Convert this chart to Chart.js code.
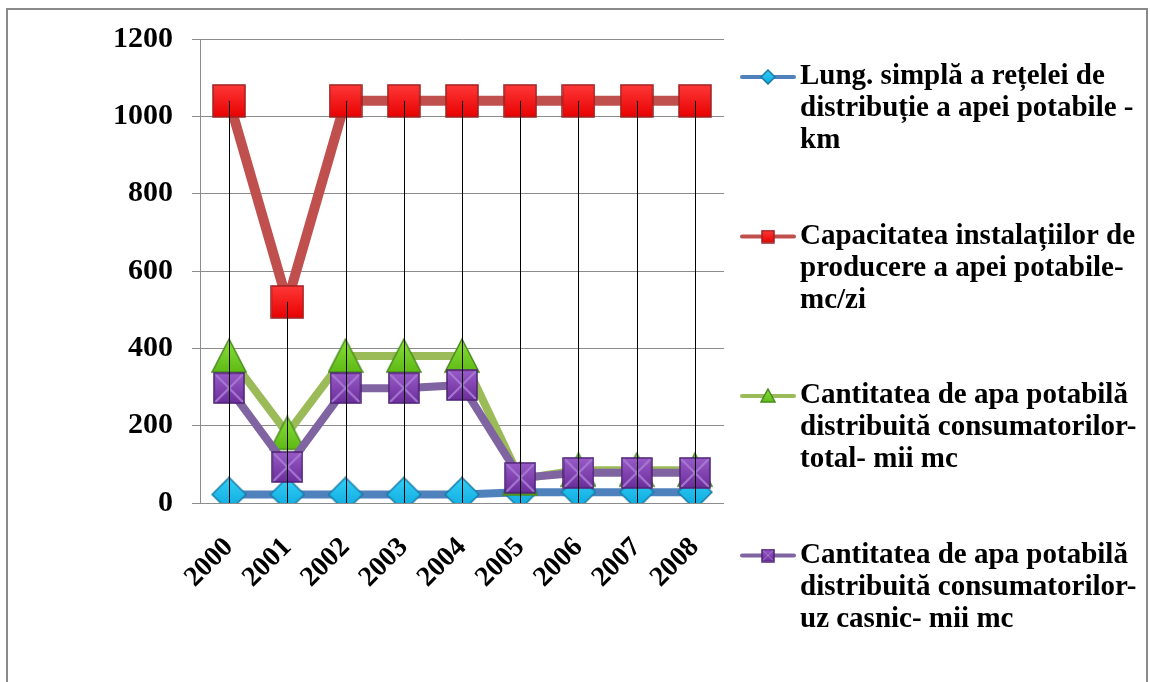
<!DOCTYPE html>
<html>
<head>
<meta charset="utf-8">
<script src="https://cdn.jsdelivr.net/npm/chart.js@4"></script>
<style>
  html, body { margin: 0; padding: 0; background: #fff; }
  canvas { display: block; }
</style>
</head>
<body>
<canvas id="apaChart" width="1150" height="682"></canvas>
<script>
// date
const years = ["2000", "2001", "2002", "2003", "2004", "2005", "2006", "2007", "2008"];
const lungRetea = [22, 22, 22, 22, 22, 28, 28, 28, 28];
const capacitate = [1040, 520, 1040, 1040, 1040, 1040, 1040, 1040, 1040];
const cantTotal = [380, 180, 380, 380, 380, 62, 85, 85, 85];
const cantCasnic = [297, 93, 297, 297, 305, 65, 78, 78, 78];
const yTicks = [0, 200, 400, 600, 800, 1000, 1200];

const legendLines = [
    ["Lung. simplă a rețelei de", "distribuție a apei potabile -", "km"],
    ["Capacitatea instalațiilor de", "producere a apei potabile-", "mc/zi"],
    ["Cantitatea de apa potabilă", "distribuită consumatorilor-", "total- mii mc"],
    ["Cantitatea de apa potabilă", "distribuită consumatorilor-", "uz casnic- mii mc"],
];

function makeCanvas(w, h) {
    const c = document.createElement("canvas");
    c.width = w;
    c.height = h;
    return c;
}

function squareMarker(s, light, dark, edge, cross) {
    const c = makeCanvas(s, s);
    const g = c.getContext("2d");
    const grad = g.createLinearGradient(0, 0, 0, s);
    grad.addColorStop(0, light);
    grad.addColorStop(1, dark);
    g.fillStyle = grad;
    g.fillRect(1, 1, s - 2, s - 2);
    if (cross) {
        g.strokeStyle = cross;
        g.lineWidth = Math.max(1, s / 16);
        g.beginPath();
        g.moveTo(2, 2); g.lineTo(s - 2, s - 2);
        g.moveTo(s - 2, 2); g.lineTo(2, s - 2);
        g.stroke();
    }
    g.strokeStyle = edge;
    g.lineWidth = 1.5;
    g.strokeRect(1, 1, s - 2, s - 2);
    return c;
}

function diamondMarker(s, light, dark, edge) {
    const c = makeCanvas(s, s);
    const g = c.getContext("2d");
    const grad = g.createLinearGradient(0, 0, 0, s);
    grad.addColorStop(0, light);
    grad.addColorStop(1, dark);
    g.fillStyle = grad;
    g.beginPath();
    g.moveTo(s / 2, 1); g.lineTo(s - 1, s / 2); g.lineTo(s / 2, s - 1); g.lineTo(1, s / 2);
    g.closePath();
    g.fill();
    g.strokeStyle = edge;
    g.lineWidth = 1.5;
    g.stroke();
    return c;
}

function triangleMarker(s, light, dark, edge) {
    const c = makeCanvas(s, s);
    const g = c.getContext("2d");
    const grad = g.createLinearGradient(0, 0, 0, s);
    grad.addColorStop(0, light);
    grad.addColorStop(1, dark);
    g.fillStyle = grad;
    g.beginPath();
    g.moveTo(s / 2, 1); g.lineTo(s - 1, s - 2); g.lineTo(1, s - 2);
    g.closePath();
    g.fill();
    g.strokeStyle = edge;
    g.lineWidth = 1.5;
    g.stroke();
    return c;
}

const mk = {
    blue: diamondMarker(36, "#35d0f8", "#0aa6dc", "#1a7aa6"),
    red: squareMarker(34, "#ff3a3a", "#e80000", "#9e2020"),
    green: triangleMarker(36, "#8be03a", "#5cb814", "#4a8a20"),
    purple: squareMarker(32, "#9a5cc8", "#6a2c98", "#4e2274", "#a77ad4"),
};
const mkSmall = {
    blue: diamondMarker(16, "#35d0f8", "#0aa6dc", "#1a7aa6"),
    red: squareMarker(14, "#ff3a3a", "#e80000", "#9e2020"),
    green: triangleMarker(16, "#8be03a", "#5cb814", "#4a8a20"),
    purple: squareMarker(14, "#9a5cc8", "#6a2c98", "#4e2274", "#a77ad4"),
};

const lineColors = ["#4f81bd", "#c0504d", "#9bbb59", "#8064a2"];
const smallMarkers = [mkSmall.blue, mkSmall.red, mkSmall.green, mkSmall.purple];

const frame = {
    id: "frame",
    beforeDraw(chart) {
        const c = chart.ctx;
        c.save();
        c.fillStyle = "#fff";
        c.fillRect(0, 0, chart.width, chart.height);
        c.strokeStyle = "#8a8a8a";
        c.lineWidth = 2;
        c.strokeRect(7, 9, 1140, 700);
        c.restore();
    },
};

// linii verticale de la valoarea maxima pana la axa
const dropLines = {
    id: "dropLines",
    afterDatasetsDraw(chart) {
        const c = chart.ctx;
        const xs = chart.scales.x;
        const ys = chart.scales.y;
        c.save();
        c.strokeStyle = "#000";
        c.lineWidth = 1;
        years.forEach((yr, i) => {
            const top = Math.max(lungRetea[i], capacitate[i], cantTotal[i], cantCasnic[i]);
            const x = Math.round(xs.getPixelForValue(i)) + 0.5;
            c.beginPath();
            c.moveTo(x, ys.getPixelForValue(top));
            c.lineTo(x, ys.getPixelForValue(0));
            c.stroke();
        });
        c.restore();
    },
};

const sideLegend = {
    id: "sideLegend",
    afterDraw(chart) {
        const c = chart.ctx;
        c.save();
        c.font = "bold 29px 'Liberation Serif', 'Times New Roman', serif";
        c.textBaseline = "middle";
        c.fillStyle = "#000";
        legendLines.forEach((lines, k) => {
            const y0 = 77 + k * 159.5;
            c.strokeStyle = lineColors[k];
            c.lineWidth = 4;
            c.lineCap = "round";
            c.beginPath();
            c.moveTo(742, y0);
            c.lineTo(794, y0);
            c.stroke();
            const m = smallMarkers[k];
            c.drawImage(m, 768 - m.width / 2, y0 - m.height / 2);
            lines.forEach((t, j) => {
                c.fillText(t, 800, y0 + j * 32);
            });
        });
        c.restore();
    },
};

const ctx = document.getElementById("apaChart").getContext("2d");

new Chart(ctx, {
    type: "line",
    data: {
        labels: years,
        datasets: [
            {
                label: legendLines[0].join(" "),
                data: lungRetea,
                borderColor: lineColors[0],
                borderWidth: 8,
                pointStyle: mk.blue,
                order: 4,
            },
            {
                label: legendLines[1].join(" "),
                data: capacitate,
                borderColor: lineColors[1],
                borderWidth: 10,
                pointStyle: mk.red,
                order: 3,
            },
            {
                label: legendLines[2].join(" "),
                data: cantTotal,
                borderColor: lineColors[2],
                borderWidth: 8,
                pointStyle: mk.green,
                order: 2,
            },
            {
                label: legendLines[3].join(" "),
                data: cantCasnic,
                borderColor: lineColors[3],
                borderWidth: 8,
                pointStyle: mk.purple,
                order: 1,
            },
        ],
    },
    options: {
        responsive: false,
        animation: false,
        layout: {
            padding: { top: 39, right: 426, bottom: 0, left: 0 },
        },
        elements: {
            line: { tension: 0, borderJoinStyle: "round" },
            point: { radius: 16, hoverRadius: 16 },
        },
        scales: {
            x: {
                offset: true,
                grid: { display: false },
                border: { display: false },
                ticks: {
                    minRotation: 45,
                    maxRotation: 45,
                    padding: 20,
                    color: "#000",
                    font: { family: "'Liberation Serif', 'Times New Roman', serif", size: 28, weight: "bold" },
                },
                afterFit(scale) { scale.height = 179; },
            },
            y: {
                min: 0,
                max: 1200,
                afterBuildTicks(scale) {
                    scale.ticks = yTicks.map((v) => ({ value: v }));
                },
                grid: { color: "#8c8c8c", tickLength: 8, lineWidth: 1 },
                border: { color: "#8c8c8c" },
                ticks: {
                    padding: 19,
                    color: "#000",
                    font: { family: "'Liberation Serif', 'Times New Roman', serif", size: 30, weight: "bold" },
                    callback: (v) => String(v),
                },
                afterFit(scale) { scale.width = 200; },
            },
        },
        plugins: {
            legend: { display: false },
            tooltip: { enabled: false },
        },
    },
    plugins: [frame, dropLines, sideLegend],
});
</script>
</body>
</html>
